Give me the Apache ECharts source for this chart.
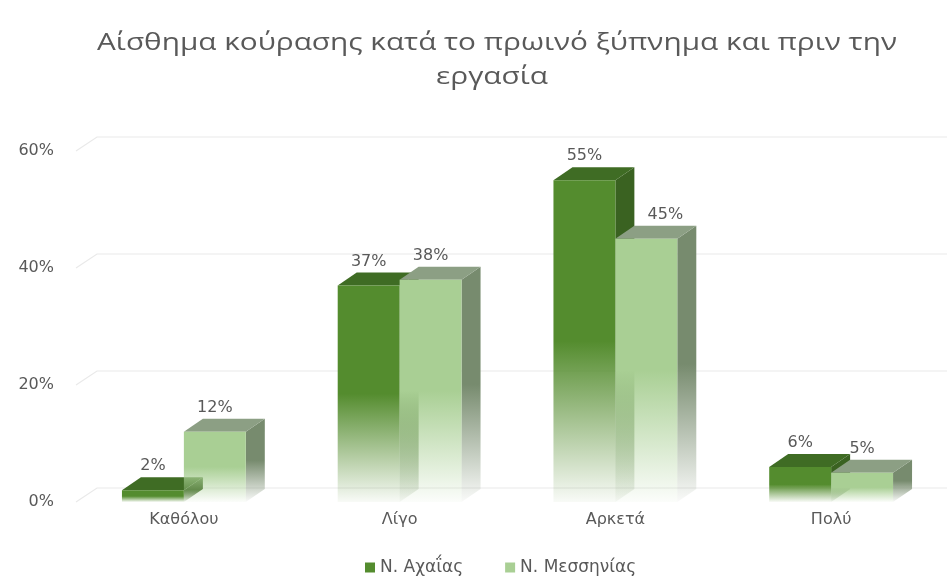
<!DOCTYPE html>
<html>
<head>
<meta charset="utf-8">
<script src="https://cdn.jsdelivr.net/npm/echarts@6/dist/echarts.min.js"></script>
<style>
  html, body { margin: 0; padding: 0; background: #ffffff; }
  #chart { width: 947px; height: 584px; }
</style>
</head>
<body>
<div id="chart"></div>
<script>
// Survey answers: feeling of tiredness on waking / before work
const titleLines = ['Αίσθημα κούρασης κατά το πρωινό ξύπνημα και πριν την', 'εργασία'];
const categories = ['Καθόλου', 'Λίγο', 'Αρκετά', 'Πολύ'];
const achaiaValues = [0.02, 0.37, 0.55, 0.06];
const messiniaValues = [0.12, 0.38, 0.45, 0.05];
const seriesNames = ['Ν. Αχαΐας', 'Ν. Μεσσηνίας'];
const yTicks = [0, 0.2, 0.4, 0.6];

const FONT = '"DejaVu Sans", "Open Sans", sans-serif';
const TITLE_FONT = '23px "Open Sans", "DejaVu Sans", sans-serif';
const TEXT = '#595959';
const DX = 19, DY = -13;           // depth offset of the 3D boxes
const WALL_DX = 21, WALL_DY = -14; // depth offset of the back wall

// Face colours for each series: front, top, side
const palette = [
  { front: [84, 140, 46], top: '#3f6c24', side: '#3a6221' },
  { front: [169, 207, 148], top: '#8c9f84', side: '#778b6e' }
];
const seriesValues = [achaiaValues, messiniaValues];

function rgba(c, a) { return 'rgba(' + c[0] + ',' + c[1] + ',' + c[2] + ',' + a + ')'; }

function fade(c) {
  return {
    type: 'linear', x: 0, y: 0, x2: 0, y2: 1,
    colorStops: [
      { offset: 0, color: rgba(c, 1) },
      { offset: 0.5, color: rgba(c, 1) },
      { offset: 1, color: rgba(c, 0.04) }
    ]
  };
}

function shade(hex) {
  const n = parseInt(hex.slice(1), 16);
  return [(n >> 16) & 255, (n >> 8) & 255, n & 255];
}

function barRenderer(s) {
  const pal = palette[s];
  return function (params, api) {
    const ci = api.value(0);
    const v = api.value(1);
    const base = api.coord([ci, 0]);
    const top = api.coord([ci, v]);
    const band = api.size([1, 0])[0];
    const w = band * 0.287;
    const x0 = s === 0 ? base[0] - w : base[0];
    const x1 = x0 + w;
    const yB = base[1];
    const yT = top[1];
    // A label of the right-hand box moves aside when the left-hand box rises above it
    let labelX = (x0 + x1) / 2;
    if (s === 1) {
      const leftTop = api.coord([ci, seriesValues[0][ci]])[1];
      if (leftTop + DY < yT + DY - 20) labelX += DX;
    }
    return {
      type: 'group',
      children: [
        {
          type: 'polygon',
          shape: { points: [[x1, yT], [x1 + DX, yT + DY], [x1 + DX, yB + DY], [x1, yB]] },
          style: { fill: fade(shade(pal.side)) }
        },
        {
          type: 'polygon',
          shape: { points: [[x0, yT], [x0 + DX, yT + DY], [x1 + DX, yT + DY], [x1, yT]] },
          style: { fill: pal.top }
        },
        {
          type: 'rect',
          shape: { x: x0, y: yT, width: w, height: yB - yT },
          style: { fill: fade(pal.front) }
        },
        {
          type: 'text', z2: 10,
          style: {
            x: labelX, y: yT + DY - 3,
            text: Math.round(v * 100) + '%',
            align: 'center', verticalAlign: 'bottom',
            fill: TEXT, font: '16px ' + FONT
          }
        }
      ]
    };
  };
}

function wallRenderer(params, api) {
  const cs = params.coordSys;
  const y = api.coord([0, api.value(1)])[1];
  return {
    type: 'polyline',
    shape: { points: [[cs.x, y], [cs.x + WALL_DX, y + WALL_DY], [cs.x + cs.width + 10, y + WALL_DY]] },
    style: { stroke: '#e9e9e9', lineWidth: 1.2, fill: null }
  };
}

// The title is set in a wide face: stretch the first line to its full span
const measureCtx = document.createElement('canvas').getContext('2d');
measureCtx.font = TITLE_FONT;
const titleScale = 800 / measureCtx.measureText(titleLines[0]).width;

const chart = echarts.init(document.getElementById('chart'), null, { renderer: 'canvas' });
chart.setOption({
  animation: false,
  backgroundColor: '#ffffff',
  graphic: [
    {
      type: 'text', x: 497, y: 43, scaleX: titleScale, silent: true,
      style: { text: titleLines[0], font: TITLE_FONT, fill: TEXT, align: 'center', verticalAlign: 'middle' }
    },
    {
      type: 'text', x: 492, y: 77, scaleX: titleScale, silent: true,
      style: { text: titleLines[1], font: TITLE_FONT, fill: TEXT, align: 'center', verticalAlign: 'middle' }
    }
  ],
  legend: {
    bottom: 3, left: 360,
    icon: 'rect', itemWidth: 10, itemHeight: 10, itemGap: 42,
    textStyle: { fontFamily: FONT, fontSize: 17, color: TEXT },
    data: seriesNames
  },
  grid: { left: 76, right: 8, top: 151, bottom: 82 },
  xAxis: {
    type: 'category', data: categories,
    axisLine: { show: false }, axisTick: { show: false },
    axisLabel: { fontFamily: FONT, fontSize: 16, color: TEXT, margin: 10 }
  },
  yAxis: {
    type: 'value', min: 0, max: 0.6, interval: 0.2,
    axisLine: { show: false }, axisTick: { show: false }, splitLine: { show: false },
    axisLabel: {
      fontFamily: FONT, fontSize: 16, color: TEXT, margin: 22,
      formatter: function (v) { return Math.round(v * 100) + '%'; }
    }
  },
  series: [
    {
      type: 'custom', name: 'wall', silent: true, z: 1,
      encode: { x: 0, y: 1 },
      data: yTicks.map(function (t) { return [0, t]; }),
      renderItem: wallRenderer
    },
    {
      type: 'custom', name: seriesNames[0], z: 2,
      color: 'rgb(84,140,46)', itemStyle: { color: 'rgb(84,140,46)' },
      encode: { x: 0, y: 1 },
      data: achaiaValues.map(function (v, i) { return [i, v]; }),
      renderItem: barRenderer(0)
    },
    {
      type: 'custom', name: seriesNames[1], z: 3,
      color: 'rgb(169,207,148)', itemStyle: { color: 'rgb(169,207,148)' },
      encode: { x: 0, y: 1 },
      data: messiniaValues.map(function (v, i) { return [i, v]; }),
      renderItem: barRenderer(1)
    }
  ]
});
</script>
</body>
</html>
